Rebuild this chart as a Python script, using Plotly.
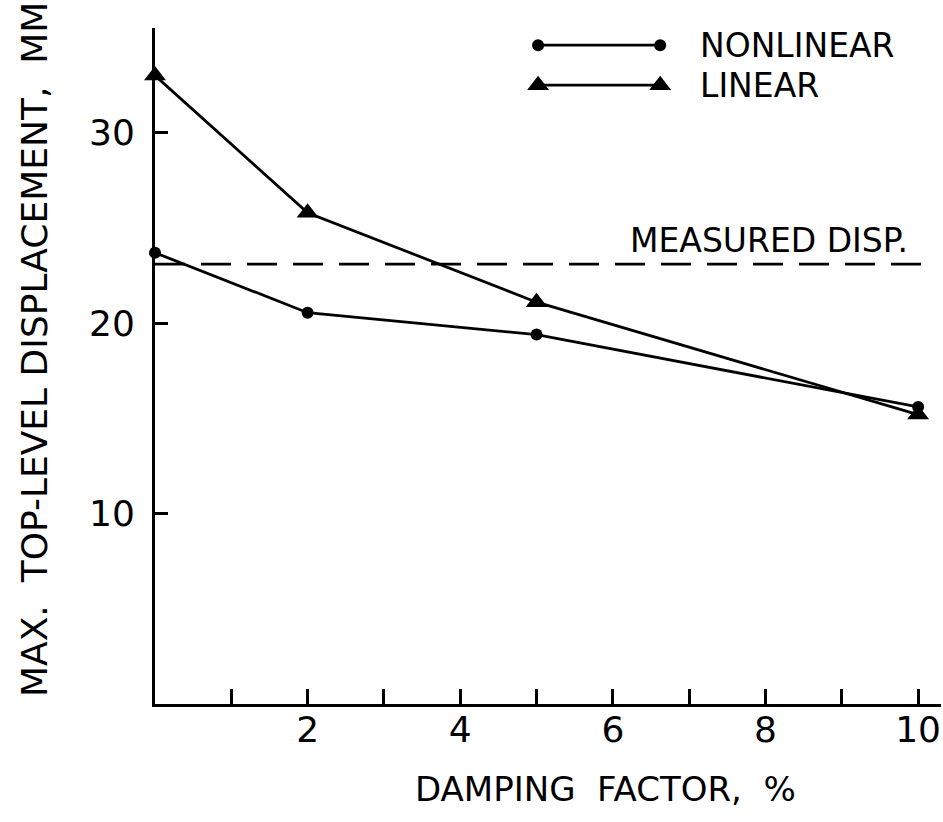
import plotly.graph_objects as go

damping = [0, 2, 5, 10]
nonlinear = [23.7, 20.55, 19.4, 15.6]
linear = [33.0, 25.8, 21.1, 15.2]
measured = 23.1
x_ticks = [1, 2, 3, 4, 5, 6, 7, 8, 9, 10]
x_ticktext = ["", "2", "", "4", "", "6", "", "8", "", "10"]
y_ticks = [10, 20, 30]

FONT = "DejaVu Sans"
BLACK = "black"

fig = go.Figure()

fig.add_trace(go.Scatter(
    x=damping, y=nonlinear, mode="lines+markers",
    line=dict(color=BLACK, width=2.8),
    marker=dict(symbol="circle", size=12, color=BLACK),
    showlegend=False, cliponaxis=False))
fig.add_trace(go.Scatter(
    x=damping, y=linear, mode="lines+markers",
    line=dict(color=BLACK, width=2.8),
    marker=dict(symbol="triangle-up", size=19, color=BLACK),
    showlegend=False, cliponaxis=False))
fig.add_trace(go.Scatter(
    x=[0, 10.1], y=[measured, measured], mode="lines",
    line=dict(color=BLACK, width=2.8, dash="30px,16px"),
    showlegend=False))

# legend (drawn manually: line with markers at both ends)
leg_x0, leg_x1 = 5.02, 6.62
for yy, sym, sz, label in [(34.6, "circle", 12, "NONLINEAR"), (32.5, "triangle-up", 19, "LINEAR")]:
    fig.add_trace(go.Scatter(
        x=[leg_x0, leg_x1], y=[yy, yy], mode="lines+markers",
        line=dict(color=BLACK, width=2.8),
        marker=dict(symbol=sym, size=sz, color=BLACK),
        showlegend=False, cliponaxis=False))
    fig.add_annotation(x=7.12, y=yy, xref="x", yref="y", text=label,
                       showarrow=False, xanchor="left", yanchor="middle",
                       font=dict(family=FONT, size=33, color=BLACK))

fig.add_annotation(x=9.9, y=24.35, xref="x", yref="y", text="MEASURED DISP.",
                   showarrow=False, xanchor="right", yanchor="middle",
                   font=dict(family=FONT, size=33, color=BLACK))

# axis titles
fig.add_annotation(x=(605 - 155) / 786, y=-(789 - 704) / 676, xref="paper", yref="paper",
                   text="DAMPING&nbsp; FACTOR,&nbsp; %", showarrow=False,
                   xanchor="center", yanchor="middle",
                   font=dict(family=FONT, size=34, color=BLACK))
fig.add_annotation(x=-(155 - 34) / 786, y=(704 - 350) / 676, xref="paper", yref="paper",
                   text="MAX.&nbsp; TOP-LEVEL DISPLACEMENT,&nbsp; MM", showarrow=False,
                   textangle=-90, xanchor="center", yanchor="middle",
                   font=dict(family=FONT, size=36, color=BLACK))

fig.update_layout(
    width=943, height=822,
    margin=dict(l=155, r=2, t=28, b=118),
    paper_bgcolor="white", plot_bgcolor="white",
    font=dict(family=FONT, size=36, color=BLACK),
    xaxis=dict(range=[0, 10.3], showgrid=False, zeroline=False,
               showline=True, linecolor=BLACK, linewidth=3,
               ticks="inside", ticklen=15, tickwidth=2.5, tickcolor=BLACK,
               tickvals=x_ticks, ticktext=x_ticktext,
               tickfont=dict(family=FONT, size=36),
               ticklabelstandoff=-8),
    yaxis=dict(range=[0, 35.5], showgrid=False, zeroline=False,
               showline=True, linecolor=BLACK, linewidth=3,
               ticks="inside", ticklen=13, tickwidth=2.5, tickcolor=BLACK,
               tickvals=y_ticks, tickfont=dict(family=FONT, size=36),
               ticklabelstandoff=10),
)

fig.write_html("out.html")
